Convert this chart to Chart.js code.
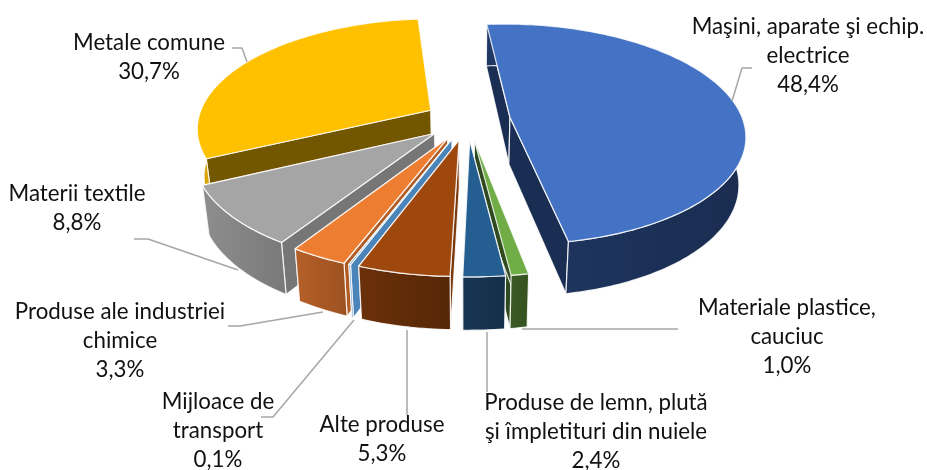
<!DOCTYPE html>
<html><head><meta charset="utf-8">
<style>html,body{margin:0;padding:0;background:#fff}canvas{display:block;filter:blur(0.4px)}</style>
<script src="https://cdn.jsdelivr.net/npm/chart.js@4"></script>
</head><body>
<div style="width:927px;height:470px"><canvas id="c" width="927" height="470"></canvas></div>
<script>
const categories = ["Maşini, aparate şi echip. electrice","Materiale plastice, cauciuc","Produse de lemn, plută şi împletituri din nuiele","Alte produse","Mijloace de transport","Produse ale industriei chimice","Materii textile","Metale comune"];
const values = [48.4,1.0,2.4,5.3,0.1,3.3,8.8,30.7];
const valueLabels = ["48,4%","1,0%","2,4%","5,3%","0,1%","3,3%","8,8%","30,7%"];
const labelLines = [["Maşini, aparate şi echip.","electrice"],["Materiale plastice,","cauciuc"],["Produse de lemn, plută","şi împletituri din nuiele"],["Alte produse"],["Mijloace de","transport"],["Produse ale industriei","chimice"],["Materii textile"],["Metale comune"]];

const topColors  = ["#4472C4","#70AD47","#255E91","#9E480E","#4A84B8","#ED7D31","#A5A5A5","#FFC000"];
const cutColors  = ["#1A2E53","#2F4A1E","#14334F","#7A380B","#4A84B8","#B05C24","#767676","#735600"];
const wallColors = [["#203864","#1A2C50"],["#3A5A24","#36521F"],["#173652","#142F4A"],["#6B300A","#562706"],["#4A84B8","#4A84B8"],["#B5602A","#9E5220"],["#8E8E8E","#7A7A7A"],["#D9A300","#D9A300"]];
const labelPos = [[808,27],[787,308],[596,403],[382,425],[218,402],[120,312],[77,194],[149,43]];
const leaders = [[[732,101],[742,68],[752,68]],[[522,329],[678,329]],[[487,332],[487,392]],[[407,330],[407,415]],[[354,320],[273,417],[261,417]],[[323,312],[240,326],[228,326]],[[238,270],[148,239],[134,239]],[[247,62],[242,48],[232,48]]];
const drawOrder = [7,0,6,5,4,3,1,2];

const xc=467.5,y0=120,k=0.465,p=0.00066,explode=43;
function proj(u,v,z){
  const s=1/(1-p*v);
  let x=xc+u*s, y=y0+k*v*s;
  if(z){ y+=z*(47+0.023*v); x=xc+(x-xc)*(1-0.025*z); }
  return [x,y];
}
function poly(ctx,pts){ctx.beginPath();pts.forEach((q,i)=>i?ctx.lineTo(q[0],q[1]):ctx.moveTo(q[0],q[1]));ctx.closePath();}
const sliceDraw={
  id:'slice3d',
  beforeDatasetsDraw(chart){
    const ctx=chart.ctx, arcs=chart.getDatasetMeta(0).data;
    ctx.save();
    ctx.lineJoin='round';
    const edge='rgba(255,255,255,0.85)';
    drawOrder.forEach(i=>{
      const a=arcs[i], R=a.outerRadius, a1=a.startAngle, a2=a.endAngle, mid=(a1+a2)/2;
      const eu=explode*Math.cos(mid), ev=explode*Math.sin(mid);
      const pt=(ang,z)=>proj(eu+R*Math.cos(ang),ev+R*Math.sin(ang),z);
      const ap=z=>proj(eu,ev,z);
      const n=Math.max(4,Math.ceil((a2-a1)/0.02));
      const top=[],bot=[];
      for(let j=0;j<=n;j++){const t=a1+(a2-a1)*j/n;top.push(pt(t,0));bot.push(pt(t,1));}
      ctx.lineWidth=1.2; ctx.strokeStyle=edge;
      // cut faces: the one further back first
      ctx.fillStyle=cutColors[i];
      const faceA=[ap(0),top[0],bot[0],ap(1)], faceB=[ap(0),top[n],bot[n],ap(1)];
      const onLeft=Math.cos(mid)<-0.05 || Math.sin(mid)>0.9;
      (onLeft?[faceB,faceA]:[faceA,faceB]).forEach(f=>{poly(ctx,f);ctx.fill();ctx.stroke();});
      // outer wall
      const xs=top.map(q=>q[0]);
      const g=ctx.createLinearGradient(Math.min(...xs),0,Math.max(...xs),0);
      g.addColorStop(0,wallColors[i][0]);g.addColorStop(1,wallColors[i][1]);
      ctx.fillStyle=g;
      poly(ctx,top.concat(bot.slice().reverse()));ctx.fill();ctx.stroke();
      // top face
      ctx.fillStyle=a.options.backgroundColor;
      poly(ctx,[ap(0)].concat(top));ctx.fill();ctx.stroke();
    });
    // leader lines
    ctx.strokeStyle='#A6A6A6';ctx.lineWidth=1.5;
    leaders.forEach(l=>{ctx.beginPath();l.forEach((q,j)=>j?ctx.lineTo(q[0],q[1]):ctx.moveTo(q[0],q[1]));ctx.stroke();});
    // labels
    ctx.fillStyle='#111';ctx.textAlign='center';ctx.textBaseline='middle';ctx.font='22.3px Lato';
    labelLines.forEach((ls,i)=>{
      const lines=ls.concat([valueLabels[i]]);
      lines.forEach((t,j)=>ctx.fillText(t,labelPos[i][0],labelPos[i][1]+j*29));
    });
    ctx.restore();
    return false;
  }
};
new Chart(document.getElementById('c'),{
  type:'pie',
  data:{labels:categories,datasets:[{data:values,backgroundColor:topColors,borderWidth:0}]},
  options:{responsive:false,animation:false,rotation:-5,layout:{padding:2},
    plugins:{legend:{display:false},tooltip:{enabled:false}}},
  plugins:[sliceDraw]
});
</script></body></html>
